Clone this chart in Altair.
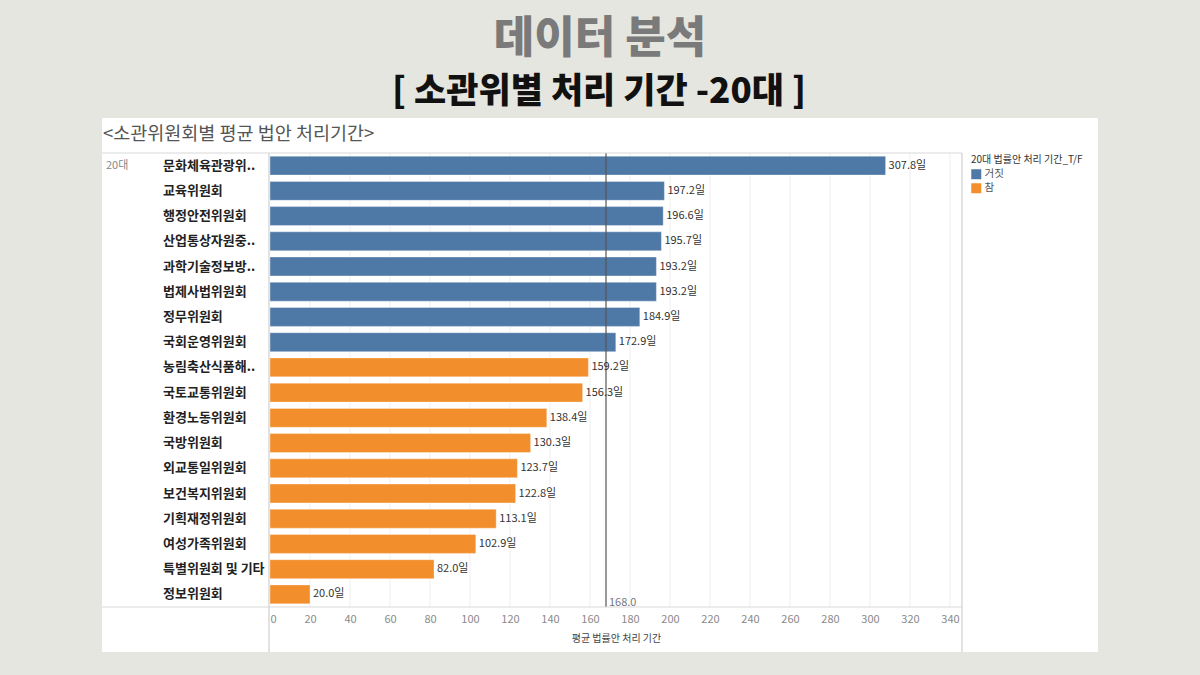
import altair as alt
import pandas as pd

# Committee names (as displayed) and average bill processing time in days, 20th National Assembly
committees = [
    "문화체육관광위..", "교육위원회", "행정안전위원회", "산업통상자원중..", "과학기술정보방..",
    "법제사법위원회", "정무위원회", "국회운영위원회", "농림축산식품해..", "국토교통위원회",
    "환경노동위원회", "국방위원회", "외교통일위원회", "보건복지위원회", "기획재정위원회",
    "여성가족위원회", "특별위원회 및 기타", "정보위원회",
]
avg_days = [307.8, 197.2, 196.6, 195.7, 193.2, 193.2, 184.9, 172.9, 159.2, 156.3,
            138.4, 130.3, 123.7, 122.8, 113.1, 102.9, 82.0, 20.0]
tf_flag = ["거짓"] * 8 + ["참"] * 10
overall_avg = 168.0
x_ticks = list(range(0, 341, 20))

df = pd.DataFrame({
    "committee": committees,
    "days": avg_days,
    "tf": tf_flag,
    "label": [f"{v:.1f}일" for v in avg_days],
})

W, H = 692, 454          # plot area
PL, PT = 270, 153         # plot area offset within the 1200x675 page
FONT = "Noto Sans CJK KR"

x_scale = alt.Scale(domain=[0, 346], nice=False, zero=True)
y_enc = alt.Y("committee:N", sort=committees, axis=None,
              scale=alt.Scale(paddingInner=0.25, paddingOuter=0.125))

one = df.head(1)

# white panel behind the dashboard
panel = alt.Chart(one).mark_rect(color="white").encode(
    x=alt.value(102 - PL), x2=alt.value(1098 - PL),
    y=alt.value(118 - PT), y2=alt.value(652 - PT),
)

# vertical gridlines at the tick positions, under the bars
grid = alt.Chart(pd.DataFrame({"t": x_ticks[1:]})).mark_rule(color="#efefef", strokeWidth=1).encode(
    x=alt.X("t:Q", scale=x_scale), y=alt.value(0), y2=alt.value(H),
)

# frame lines of the sheet
line_color = "#d9d9d9"
def hline(yv):
    return alt.Chart(one).mark_rule(color=line_color, strokeWidth=1.2).encode(
        x=alt.value(102 - PL), x2=alt.value(W), y=alt.value(yv), y2=alt.value(yv))

def vline(xv):
    return alt.Chart(one).mark_rule(color=line_color, strokeWidth=1.5).encode(
        x=alt.value(xv), x2=alt.value(xv), y=alt.value(0), y2=alt.value(652 - PT))

bars = alt.Chart(df).mark_bar(stroke="white", strokeOpacity=0.35, strokeWidth=1).encode(
    x=alt.X("days:Q", scale=x_scale,
            axis=alt.Axis(values=x_ticks, title="평균 법률안 처리 기간", grid=False,
                          domain=False, ticks=False, zindex=1,
                          labelColor="#8a8a8a", labelFontSize=11, labelFont=FONT,
                          labelPadding=6, titleFont=FONT, titleFontSize=10,
                          titleFontWeight="normal", titleColor="#444", titlePadding=9)),
    y=y_enc,
    color=alt.Color("tf:N", scale=alt.Scale(domain=["거짓", "참"], range=["#4e79a7", "#f28e2b"]),
                    legend=alt.Legend(title="20대 법률안 처리 기간_T/F", orient="none",
                                      legendX=701, legendY=2, titleFont=FONT, titleFontSize=10,
                                      titleFontWeight="normal", titleColor="#333",
                                      labelFont=FONT, labelFontSize=10.5, labelColor="#555",
                                      symbolType="square", symbolSize=100, symbolStrokeWidth=0,
                                      rowPadding=3, titlePadding=4, labelOffset=3, zindex=1)),
)

values = alt.Chart(df).mark_text(align="left", baseline="middle", dx=3, font=FONT,
                                 fontSize=11, color="#333").encode(
    x=alt.X("days:Q", scale=x_scale), y=y_enc, text="label:N",
)

names = alt.Chart(df).mark_text(align="left", baseline="middle", font=FONT, fontSize=13,
                                fontWeight="bold", color="#222").encode(
    x=alt.value(163 - PL), y=y_enc, text="committee:N",
)

row_header = alt.Chart(one).mark_text(align="left", baseline="middle", font=FONT,
                                      fontSize=11, color="#888").encode(
    x=alt.value(106 - PL), y=y_enc, text=alt.value("20대"),
)

avg_df = pd.DataFrame({"avg": [overall_avg], "txt": [f"{overall_avg:.1f}"]})
avg_rule = alt.Chart(avg_df).mark_rule(color="#555", strokeWidth=1.2).encode(
    x=alt.X("avg:Q", scale=x_scale), y=alt.value(0), y2=alt.value(H),
)
avg_text = alt.Chart(avg_df).mark_text(align="left", baseline="bottom", dx=3, font=FONT,
                                       fontSize=11, color="#777").encode(
    x=alt.X("avg:Q", scale=x_scale), y=alt.value(H + 1), text="txt:N",
)

sheet_title = alt.Chart(one).mark_text(align="left", baseline="middle", font=FONT,
                                       fontSize=18.5, color="#555").encode(
    x=alt.value(103 - PL), y=alt.value(134 - PT), text=alt.value("<소관위원회별 평균 법안 처리기간>"),
)
main_title = alt.Chart(one).mark_text(align="center", baseline="middle", font=FONT,
                                      fontSize=44, fontWeight=900, color="#7a7a7a").encode(
    x=alt.value(600 - PL), y=alt.value(40 - PT), text=alt.value("데이터 분석"),
)
sub_title = alt.Chart(one).mark_text(align="center", baseline="middle", font=FONT,
                                     fontSize=35, fontWeight=900, color="#111").encode(
    x=alt.value(599 - PL), y=alt.value(92 - PT), text=alt.value("[ 소관위별 처리 기간 -20대 ]"),
)

chart = alt.layer(
    panel, grid, bars, avg_rule, hline(0), hline(H), vline(-1), vline(W),
    values, names, row_header, avg_text, sheet_title, main_title, sub_title,
).properties(
    width=W, height=H,
    autosize=alt.AutoSizeParams(type="none"),
    padding={"left": PL, "top": PT, "right": 1200 - PL - W, "bottom": 675 - PT - H},
    background="#e6e6e0",
).configure_view(stroke=None)

chart.save("out.html", embed_options={"renderer": "svg", "actions": False})
